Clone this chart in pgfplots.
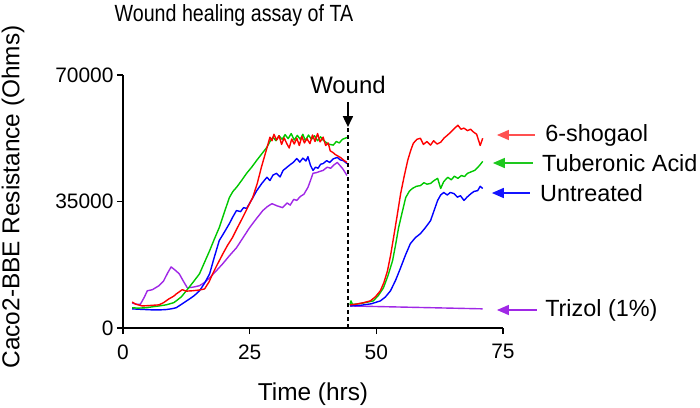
\documentclass[border=0pt]{standalone}
\usepackage{pgfplots}
\pgfplotsset{compat=1.18}
\usepackage{fontspec}
\setmainfont{Liberation Sans}
\usetikzlibrary{arrows.meta}
\definecolor{cred}{RGB}{255,0,0}
\definecolor{cgreen}{RGB}{0,200,0}
\definecolor{cblue}{RGB}{0,0,255}
\definecolor{cpurple}{RGB}{160,40,230}
\definecolor{ared}{RGB}{255,80,80}
\definecolor{agreen}{RGB}{30,200,30}
\definecolor{ablue}{RGB}{20,20,255}
\definecolor{apurple}{RGB}{160,40,230}
\begin{document}
\begin{tikzpicture}
\begin{axis}[
  scale only axis, width=380bp, height=253bp,
  xmin=0, xmax=75, ymin=0, ymax=70000,
  axis lines=left,
  axis line style={black, line width=1.8bp, -},
  xtick={0,25,50,75}, ytick={0,35000,70000},
  tick align=outside, major tick length=6bp,
  tick style={black, line width=1.6bp},
  scaled y ticks=false,
  yticklabel style={/pgf/number format/1000 sep={}},
  xticklabel style={yshift=-7bp},
  /pgf/number format/assume math mode=true,
  tick label style={font=\fontsize{21}{24}\selectfont},
  xlabel={Time (hrs)},
  ylabel={Caco2-BBE Resistance (Ohms)},
  label style={font=\fontsize{24.5}{28}\selectfont},
  xlabel style={at={(axis description cs:0.5,-0.26)}, anchor=center},
  ylabel style={at={(axis description cs:-0.289,0.518)}, anchor=center},
  clip=false,
  every axis plot/.append style={no marks, line width=1.4bp, line join=round},
]
% Trizol
\addplot[cpurple] coordinates {
(1.8,6900) (2.6,6600) (3.4,6500) (4.2,8500) (4.8,10300) (5.8,10600) (7.1,11700) (8,13000) (8.8,15200) (9.5,16900) (10.3,16000) (11.1,15000) (11.9,13000) (12.7,11100) (13.8,11300) (15.1,11700) (16.1,12600) (17.1,13900) (18.4,15800) (19.7,17800) (21,20000) (22.4,22200) (23.7,25000) (25,27800) (26.3,30200) (27.6,32500) (28.5,33600) (29.4,34400) (30.4,33800) (31.5,33300) (32.4,34600) (33,34000) (33.7,35600) (34.3,35300) (35,36400) (35.7,37000) (36.5,38900) (37,40800) (37.5,42800) (38.2,43000) (39,43400) (39.5,43600) (40.3,44500) (41,44200) (41.7,45200) (42.3,45800) (42.8,45000) (43.4,44000) (44.2,42200)
};
\addplot[cpurple] coordinates {(44.8,6100) (58,5700) (71,5300)};
% Untreated
\addplot[cblue] coordinates {
(1.8,5300) (3,5200) (4.5,5100) (6,5000) (7.1,5000) (8.5,5100) (9.5,5300) (10.5,5600) (11.8,6800) (13.1,8000) (14.1,9000) (15.1,10300) (16.1,12400) (17.1,15000) (18,19500) (19,24200) (20,26500) (21,28900) (21.7,30800) (22.4,32500) (23.2,32200) (23.8,33300) (24.4,33100) (25.4,35500) (26.4,38000) (27.4,40000) (28.4,41700) (29,40800) (29.6,42300) (30.3,42800) (31,41800) (31.6,43600) (32.3,44400) (33,45200) (33.6,45800) (34.3,46900) (34.9,45900) (35.5,47000) (36.1,46200) (36.5,47400) (37,45000) (37.5,43600) (38,44500) (38.5,44200) (39,45300) (39.5,45500) (40.2,46300) (40.8,45800) (41.5,46800) (42.3,47200) (42.9,46500) (43.5,46300) (44.2,45500)
};
\addplot[cblue] coordinates {
(44.8,6100) (47,6300) (49,6700) (50.8,7500) (51.8,8600) (52.8,10300) (53.8,13200) (54.8,16700) (55.7,20000) (56.7,23300) (57.7,25000) (58.7,26100) (59.7,27800) (60.7,29700) (61.4,32500) (62.1,35300) (62.7,36800) (63.3,37500) (64,36800) (64.6,37500) (65.3,37200) (66,36200) (66.6,36600) (67.3,35300) (67.9,36200) (68.7,37200) (69.3,37800) (70,38000) (70.5,39200) (71,38600)
};
% Tuberonic Acid
\addplot[cgreen] coordinates {
(1.8,5600) (3,5500) (4.5,5600) (6,5900) (7.1,6100) (8.5,6400) (10,7000) (10.5,7500) (11.5,8600) (12.5,10300) (13.8,12600) (15.1,15000) (16.1,18200) (17.1,21400) (18,24500) (19,27800) (20,32000) (21,36100) (21.7,37800) (22.4,38900) (23.4,40800) (24.4,42800) (25.4,44500) (26.4,46400) (27.4,48200) (28.4,50000) (29,51600) (29.6,52800) (30.2,51800) (30.8,53200) (31.4,52200) (32,53500) (32.6,52400) (33.2,53800) (33.8,52000) (34.4,53300) (35,52200) (35.5,53600) (36,51800) (36.6,53400) (37.2,52200) (37.8,53200) (38.4,51800) (39,52900) (39.5,52000) (40.2,51200) (40.8,50800) (41.5,50600) (42.1,51600) (42.7,51200) (43.3,52200) (44.2,52700)
};
\addplot[cgreen] coordinates {
(44.8,6400) (45,7500) (45.3,6500) (47,6800) (49.4,7500) (50.4,9000) (51.4,11100) (52.3,14500) (53.2,18600) (53.8,23000) (54.4,27800) (55.1,32000) (55.8,36100) (56.5,37800) (57.1,38600) (57.9,39200) (58.7,39400) (59.4,40200) (60,39800) (60.7,40000) (61.4,40800) (62.1,41400) (62.7,38600) (63.3,40500) (64.1,41700) (64.8,41000) (65.4,42000) (66.1,41400) (66.8,42200) (67.4,41900) (68,42800) (68.7,43200) (69.4,43600) (70,44400) (70.5,45200) (71,46100)
};
% 6-shogaol
\addplot[cred] coordinates {
(1.8,7200) (2.5,6600) (3.8,6100) (5,6200) (6,6300) (7.1,6400) (8,7000) (9,8000) (10,8800) (10.5,9400) (11.7,10600) (12.5,10200) (13.7,10300) (15,10500) (16.1,10800) (17,12800) (17.7,15000) (18.7,17800) (19.7,20500) (20.6,22800) (21.6,25000) (22.6,27800) (23.6,30500) (24.6,33300) (25.6,36100) (26.5,40000) (27.3,44400) (28.2,48800) (29,52800) (29.4,51800) (29.8,53600) (30.3,52000) (30.8,53200) (31.3,50800) (31.8,52600) (32.3,51100) (32.8,49800) (33.3,52300) (33.8,50900) (34.3,52500) (34.8,50500) (35.3,53000) (35.8,51200) (36.3,52400) (36.9,51000) (37.4,53400) (37.9,51600) (38.4,53800) (38.9,51500) (39.5,52800) (40,50500) (40.5,51200) (40.9,49000) (41.4,48600) (41.9,48000) (42.4,47600) (42.9,47200) (43.5,46500) (44.2,45800)
};
\addplot[cred] coordinates {
(44.8,6400) (46,6600) (47.5,7000) (48.8,7500) (49.8,8600) (50.8,10300) (51.5,12600) (52.2,15800) (52.8,20000) (53.4,25000) (54.1,31000) (54.8,37200) (55.5,42000) (56.2,46400) (56.8,49200) (57.3,51100) (58,52200) (58.7,52500) (59.3,50800) (60,51600) (60.7,50600) (61.3,51800) (62,50900) (62.7,51400) (63.4,52600) (64,53300) (64.7,54200) (65.4,55200) (66.1,56100) (66.7,55000) (67.3,55300) (68,54600) (68.6,55000) (69.2,54200) (69.8,53600) (70.5,50500) (71,52500)
};
% title
\node[anchor=center] at (axis description cs:0.292,1.237) {\scalebox{0.84}[1]{\fontsize{23.5}{28}\selectfont Wound healing assay of TA}};
% wound marker
\draw[black, line width=1.8bp, dash pattern=on 4bp off 3bp] (axis cs:44.4,0) -- (axis cs:44.4,55600);
\draw[black, line width=1.8bp, -{Triangle[length=11bp,width=10bp]}] (axis cs:44.4,62500) -- (axis cs:44.4,55600);
\node[font=\fontsize{24}{28}\selectfont, anchor=center] at (axis cs:44.4,67200) {Wound};
% right-hand annotations
\draw[ared, line width=1.5bp, -{Triangle[length=12bp,width=10bp]}] (axis cs:81.3,53400) -- (axis cs:73.8,53400);
\node[font=\fontsize{23.5}{28}\selectfont, anchor=west, inner sep=0pt] at (axis cs:83.3,53400) {6-shogaol};
\draw[agreen, line width=1.5bp, -{Triangle[length=12bp,width=10bp]}] (axis cs:80.9,45650) -- (axis cs:73.0,45650);
\node[font=\fontsize{23.5}{28}\selectfont, anchor=west, inner sep=0pt] at (axis cs:82.7,45650) {Tuberonic Acid};
\draw[ablue, line width=1.5bp, -{Triangle[length=12bp,width=10bp]}] (axis cs:80.3,37350) -- (axis cs:72.8,37350);
\node[font=\fontsize{23.5}{28}\selectfont, anchor=west, inner sep=0pt] at (axis cs:82.3,37350) {Untreated};
\draw[apurple, line width=1.5bp, -{Triangle[length=12bp,width=10bp]}] (axis cs:81.7,4980) -- (axis cs:73.8,4980);
\node[font=\fontsize{23.5}{28}\selectfont, anchor=west, inner sep=0pt] at (axis cs:83.3,4980) {Trizol (1\%)};
\end{axis}
\pgfresetboundingbox
\path[use as bounding box] (-123bp,-80bp) rectangle (577bp,328bp);
\end{tikzpicture}
\end{document}
